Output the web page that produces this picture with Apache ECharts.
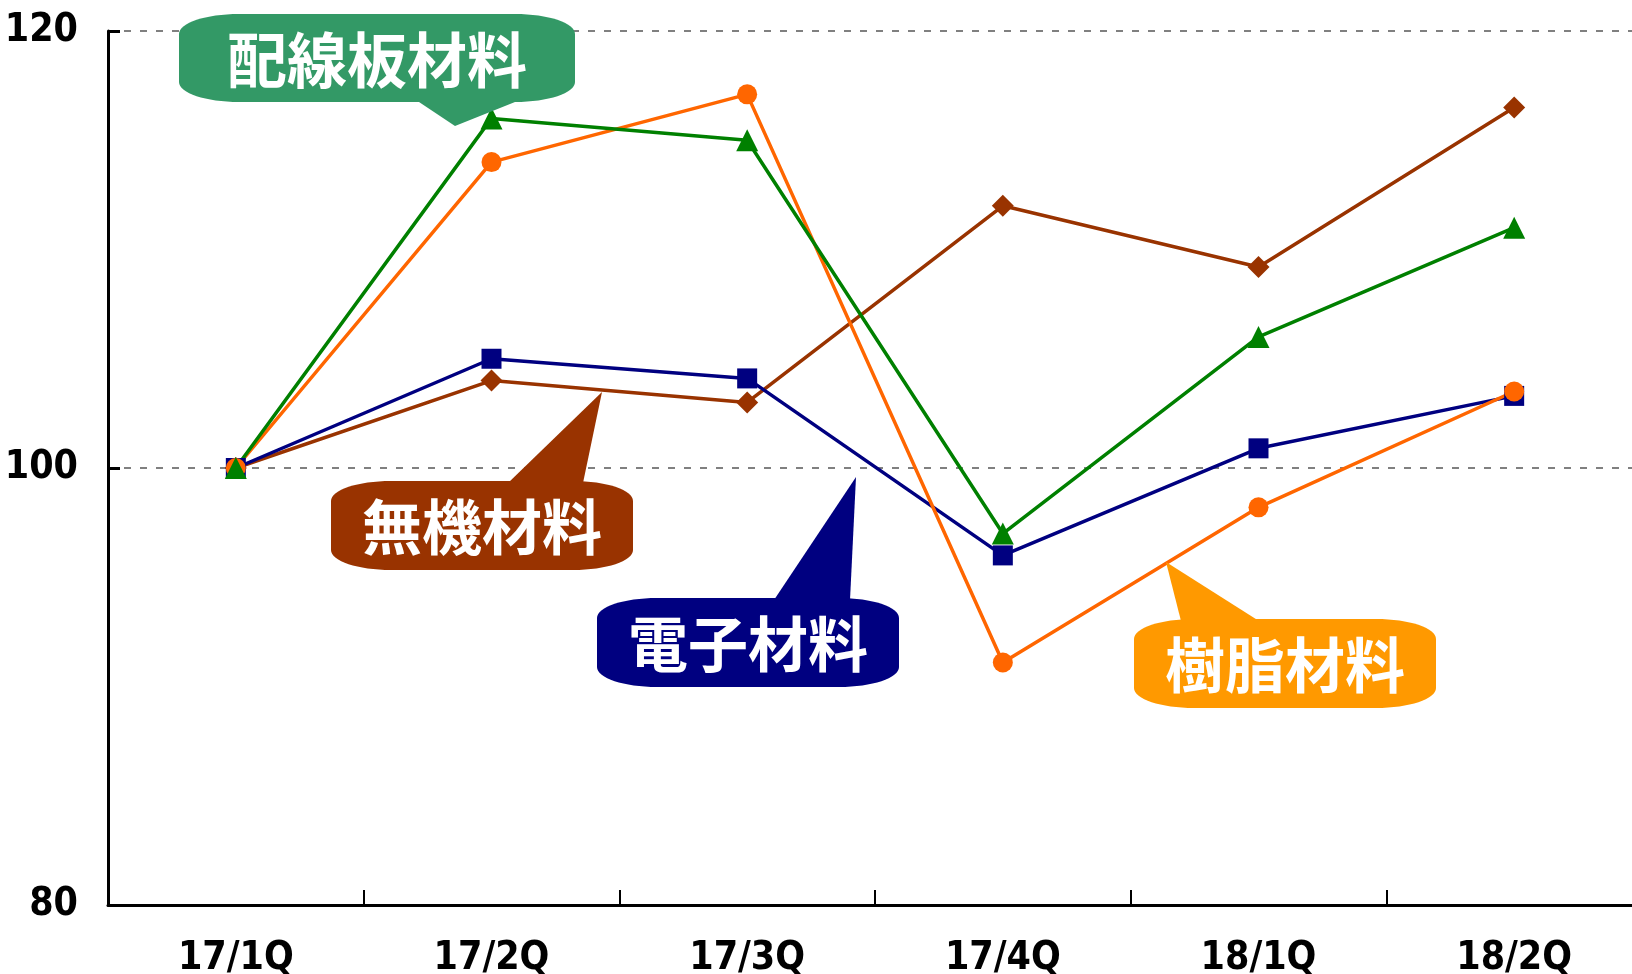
<!DOCTYPE html>
<html>
<head>
<meta charset="utf-8">
<script src="https://cdn.jsdelivr.net/npm/echarts@6/dist/echarts.min.js"></script>
<style>
  html, body { margin: 0; padding: 0; background: #fff; }
  #chart { width: 1632px; height: 974px; }
</style>
</head>
<body>
<div id="chart"></div>
<script>
const categories = ['17/1Q', '17/2Q', '17/3Q', '17/4Q', '18/1Q', '18/2Q']
const yTicks = [80, 100, 120]

// 指数 (17/1Q = 100)
const wiringBoard = [100, 116.0, 115.0, 97.0, 106.0, 111.0]   // 配線板材料
const resin = [100, 114.0, 117.1, 91.1, 98.2, 103.5]          // 樹脂材料
const inorganic = [100, 104.0, 103.0, 112.0, 109.2, 116.5]    // 無機材料
const electronic = [100, 105.0, 104.1, 96.0, 100.9, 103.3]    // 電子材料

const numFont = '"Liberation Sans Narrow", "DejaVu Sans Condensed", sans-serif'
const jpFont = '"Noto Sans CJK JP", sans-serif'

// 楕円の角を持つ吹き出し本体
const K = 0.5523
echarts.graphic.registerShape('bubbleBody', echarts.graphic.extendShape({
  shape: { x: 0, y: 0, w: 0, h: 0, rx: 60, ry: 20 },
  buildPath (ctx, s) {
    const { x, y, w, h, rx, ry } = s
    ctx.moveTo(x + rx, y)
    ctx.lineTo(x + w - rx, y)
    ctx.bezierCurveTo(x + w - rx + rx * K, y, x + w, y + ry - ry * K, x + w, y + ry)
    ctx.lineTo(x + w, y + h - ry)
    ctx.bezierCurveTo(x + w, y + h - ry + ry * K, x + w - rx + rx * K, y + h, x + w - rx, y + h)
    ctx.lineTo(x + rx, y + h)
    ctx.bezierCurveTo(x + rx - rx * K, y + h, x, y + h - ry + ry * K, x, y + h - ry)
    ctx.lineTo(x, y + ry)
    ctx.bezierCurveTo(x, y + ry - ry * K, x + rx - rx * K, y, x + rx, y)
    ctx.closePath()
  }
}))

const chart = echarts.init(document.getElementById('chart'))

function bubble (x, y, w, h, tail, color, text) {
  return [
    { type: 'polygon', z: 100, shape: { points: tail }, style: { fill: color } },
    { type: 'bubbleBody', z: 100, shape: { x, y, w, h, rx: 60, ry: 20 }, style: { fill: color } },
    {
      type: 'text', z: 101, x: x + w / 2, y: y + h / 2 + 2,
      style: { text, fill: '#fff', font: `bold 60px ${jpFont}`, align: 'center', verticalAlign: 'middle' }
    }
  ]
}

const lineSeries = (name, data, color, symbol, size) => ({
  name, type: 'line', data,
  symbol, symbolSize: size,
  lineStyle: { color, width: 3.5 },
  itemStyle: { color },
  showSymbol: true,
  animation: false
})

const option = {
  backgroundColor: '#fff',
  animation: false,
  grid: { left: 108, top: 31, bottom: 69, width: 1534, containLabel: false, outerBoundsMode: 'none' },
  xAxis: {
    type: 'category',
    data: categories,
    axisLine: { lineStyle: { color: '#000', width: 3 } },
    axisTick: { show: true, inside: true, length: 15, lineStyle: { color: '#000', width: 2 } },
    axisLabel: { color: '#000', fontFamily: numFont, fontWeight: 'bold', fontSize: 39, margin: 34 },
    splitLine: { show: false }
  },
  yAxis: {
    type: 'value',
    min: yTicks[0],
    max: yTicks[yTicks.length - 1],
    interval: 20,
    axisLine: { show: true, lineStyle: { color: '#000', width: 3 } },
    axisTick: { show: true, inside: true, length: 12, lineStyle: { color: '#000', width: 3 } },
    axisLabel: { color: '#000', fontFamily: numFont, fontWeight: 'bold', fontSize: 39, margin: 30 },
    splitLine: { show: true, lineStyle: { color: '#808080', width: 2, type: [7, 9] } }
  },
  series: [
    lineSeries('無機材料', inorganic, '#993300', 'diamond', 22),
    lineSeries('電子材料', electronic, '#000080', 'rect', 20),
    lineSeries('樹脂材料', resin, '#FF6600', 'circle', 20),
    lineSeries('配線板材料', wiringBoard, '#008000', 'triangle', 22)
  ],
  graphic: [
    ...bubble(179, 14, 396, 88, [[416, 100], [520, 100], [455, 126]], '#339966', '配線板材料'),
    ...bubble(331, 481, 302, 89, [[508, 483], [583, 483], [602, 392]], '#993300', '無機材料'),
    ...bubble(597, 598, 302, 89, [[774, 600], [850, 600], [856, 477]], '#000080', '電子材料'),
    ...bubble(1134, 619, 302, 89, [[1181, 621], [1259, 621], [1166, 562]], '#FF9900', '樹脂材料')
  ]
}

chart.setOption(option)
</script>
</body>
</html>
